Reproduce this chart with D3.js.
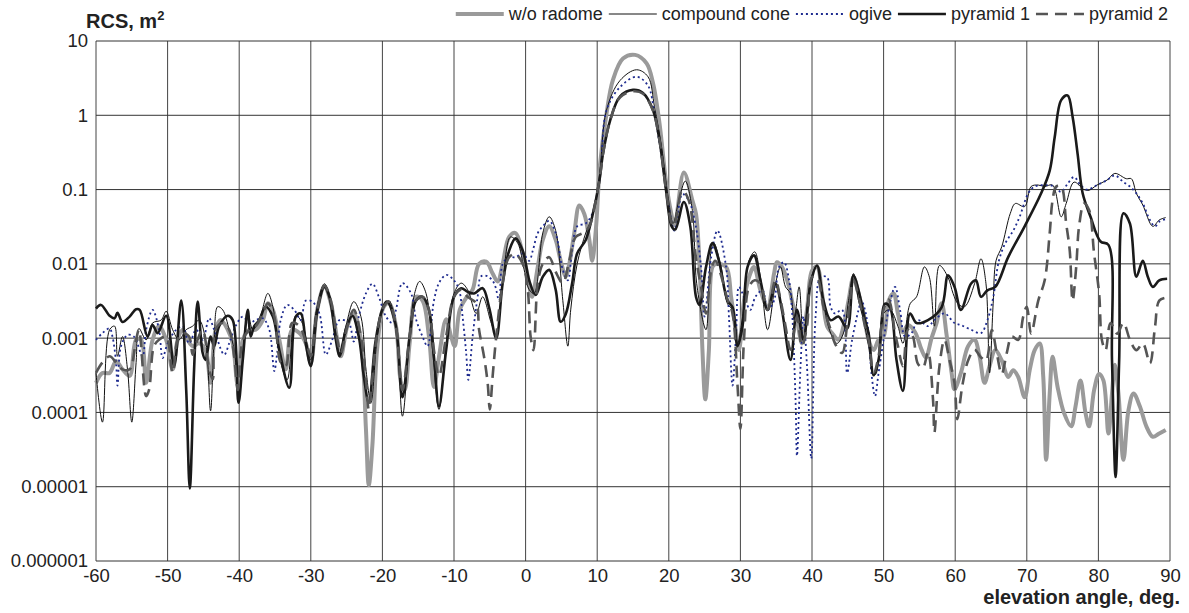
<!DOCTYPE html>
<html>
<head>
<meta charset="utf-8">
<script src="https://cdn.jsdelivr.net/npm/d3@7"></script>
<style>
  body { margin: 0; background: #fff; }
  svg { display: block; font-family: "Liberation Sans", Arial, sans-serif; }
</style>
</head>
<body>
<script>
// tick values and labels
var xTicks = [-60, -50, -40, -30, -20, -10, 0, 10, 20, 30, 40, 50, 60, 70, 80, 90];
var yTicks = [10, 1, 0.1, 0.01, 0.001, 0.0001, 0.00001, 0.000001];
var yTickLabels = ["10", "1", "0.1", "0.01", "0.001", "0.0001", "0.00001", "0.000001"];
var seriesNames = ["w/o radome", "compound cone", "ogive", "pyramid 1", "pyramid 2"];

// [elevation angle (deg), RCS (m^2)]
var woRadome = [[-60,2.5e-4],[-59.1,3.4e-4],[-58.1,3.4e-4],[-57.2,4.9e-4],[-56.3,3.8e-4],[-55.3,3.1e-4],[-54.4,9.5e-4],[-53.7,9.5e-4],[-53,2.5e-4],[-52.1,9.5e-4],[-51.2,1.45e-3],[-50.2,9.5e-4],[-49.3,3.8e-4],[-48.6,9.5e-4],[-47.9,1.3e-3],[-47.2,9.5e-4],[-46.5,7.8e-4],[-45.6,8.5e-4],[-44.7,6.9e-4],[-44,2.5e-4],[-43.3,1.3e-3],[-42.6,1.75e-3],[-41.6,1.3e-3],[-40.9,8.5e-4],[-40.2,2.3e-4],[-39.5,9.5e-4],[-38.6,1.3e-3],[-37.7,1.3e-3],[-36.7,1.75e-3],[-36,2.95e-3],[-35.3,2.4e-3],[-34.4,9.5e-4],[-33.5,3.8e-4],[-32.6,1.3e-3],[-31.6,1.17e-3],[-30.7,8.5e-4],[-30,4.7e-4],[-29.1,2.4e-3],[-28.1,4.9e-3],[-27.2,2.95e-3],[-26.3,9.5e-4],[-25.8,5.7e-4],[-24.9,1.45e-3],[-24,2.15e-3],[-23,9.5e-4],[-22.3,6e-5],[-21.9,1.05e-5],[-21.4,3.6e-5],[-20.7,7.8e-4],[-19.8,2.65e-3],[-19.1,2.95e-3],[-18.1,1.45e-3],[-17.4,2.5e-4],[-16.9,2e-4],[-16.2,8.5e-4],[-15.3,3.6e-3],[-14.4,3.2e-3],[-13.5,1.05e-3],[-12.8,2.2e-4],[-12.1,5.6e-4],[-11.1,1.8e-3],[-10.4,1.05e-3],[-9.9,7.8e-4],[-9.2,2.4e-3],[-8.2,3.6e-3],[-7.4,4.5e-3],[-6.5,0.01],[-5.5,0.0107],[-4.6,7.4e-3],[-3.9,5.8e-3],[-3.2,0.01],[-2.3,0.023],[-1.4,0.026],[-0.4,0.0138],[0.3,6.8e-3],[0.9,3.6e-3],[1.7,9.1e-3],[2.4,0.021],[3.3,0.032],[4.2,0.021],[4.9,0.011],[5.6,6.8e-3],[6.1,0.01],[6.8,0.026],[7.5,0.061],[8.2,0.047],[8.9,0.021],[9.3,0.011],[9.8,0.028],[10.4,0.22],[11.3,1.05],[12.2,3.0],[13.6,5.8],[15.3,6.5],[16.9,5.0],[17.8,2.7],[18.7,0.78],[19.6,0.13],[20.3,0.05],[20.8,0.033],[22.1,0.17],[23.3,0.071],[23.8,0.047],[24.3,9.1e-3],[24.7,6.9e-4],[25.1,1.5e-4],[25.6,6.9e-4],[26.1,9.1e-3],[26.6,0.01],[28,9.1e-3],[28.7,3.6e-3],[29.4,1.17e-3],[29.8,6.9e-4],[30.5,3.2e-3],[31.2,6.6e-3],[31.9,9.1e-3],[32.8,4.4e-3],[33.8,2.65e-3],[34.7,7.4e-3],[35.1,0.0105],[35.8,9.1e-3],[36.8,4.9e-3],[37.2,3.2e-3],[37.9,1.75e-3],[38.6,8.5e-4],[39.3,2.4e-3],[40,8.1e-3],[40.7,9.1e-3],[41.4,4e-3],[42.1,1.45e-3],[42.8,1.17e-3],[43.7,9.5e-4],[44.4,1.45e-3],[45.1,3.2e-3],[45.8,6.6e-3],[46.5,4e-3],[47.2,2.15e-3],[47.9,9.5e-4],[48.6,6.9e-4],[49.3,9.5e-4],[50,1.05e-3],[50.7,3.2e-3],[51.4,4e-3],[52,2.15e-3],[52.7,1.2e-3],[53.4,1.5e-3],[54.4,1.2e-3],[55.3,7e-4],[55.9,5.5e-4],[56.7,1e-3],[57.4,1.6e-3],[58.1,2.95e-3],[58.8,1.1e-3],[59.5,3.4e-4],[59.9,2.05e-4],[60.8,3.4e-4],[61.8,7.8e-4],[62.7,9.5e-4],[63.4,5.7e-4],[64.1,2.5e-4],[64.8,4.2e-4],[65.6,6.9e-4],[66.5,5e-4],[67.4,3e-4],[68.1,3.7e-4],[68.8,3e-4],[69.7,1.6e-4],[70.4,3.7e-4],[71.1,6.9e-4],[71.8,8.5e-4],[72.3,3e-4],[72.7,2.3e-5],[73.2,1.8e-4],[73.6,5.6e-4],[74.3,2.2e-4],[75.2,9.8e-5],[76.2,6.5e-5],[76.8,1.2e-4],[77.5,2.7e-4],[78.2,9.8e-5],[78.7,6.5e-5],[79.4,2e-4],[80.1,3.3e-4],[80.7,2.7e-4],[81.4,5.2e-5],[81.9,1.8e-4],[82.3,4.4e-4],[82.8,1.8e-4],[83.5,2.3e-5],[84.2,1.07e-4],[84.9,1.8e-4],[85.8,1.2e-4],[86.7,6.5e-5],[87.6,4.7e-5],[88.5,5.2e-5],[89.4,5.8e-5]];

var compoundCone = [[-60,3.4e-4],[-59.1,7.4e-5],[-58.1,1.3e-3],[-57.4,1.45e-3],[-57,5.7e-4],[-56.3,1.05e-3],[-55.6,3.8e-4],[-55,7.4e-5],[-54.4,4.7e-4],[-54,1.35e-3],[-53,9.5e-4],[-52.1,1.6e-3],[-50.9,1.75e-3],[-50.2,2.3e-3],[-49.3,1.3e-3],[-48.4,9.5e-4],[-47.4,1.3e-3],[-46.5,1.45e-3],[-45.6,1.75e-3],[-44.7,9.5e-4],[-44,1.05e-4],[-43.5,9.5e-4],[-43,2.65e-3],[-42.3,2.4e-3],[-41.4,1.3e-3],[-40.7,6.9e-4],[-40,1.66e-4],[-39.3,1.05e-3],[-38.8,2.15e-3],[-38.1,1.3e-3],[-37.2,1.75e-3],[-36,4e-3],[-35.3,2.65e-3],[-34.2,4.7e-4],[-33.3,2.75e-4],[-32.1,2e-3],[-31.2,1.6e-3],[-30,5.1e-4],[-29.3,2.15e-3],[-28.1,5.4e-3],[-27,2.65e-3],[-26,6.3e-4],[-25.1,1.45e-3],[-24,3.1e-3],[-23,1.95e-3],[-22.3,3.8e-4],[-21.6,1.35e-4],[-20.7,1.05e-3],[-19.8,2.65e-3],[-19.1,3.2e-3],[-18.1,1.4e-3],[-17.2,8.9e-5],[-16.2,1.05e-3],[-15.5,4e-3],[-14.8,5.8e-3],[-13.9,4e-3],[-13,6.9e-4],[-12.1,1.1e-4],[-11.1,8.5e-4],[-10,4e-3],[-9,5.5e-3],[-8.1,4.5e-3],[-6.9,2.15e-3],[-6,3.6e-3],[-4.8,1.6e-3],[-4.1,1.1e-3],[-3.2,5.5e-3],[-2.1,0.023],[-1.1,0.019],[-0.2,8.3e-3],[0.5,4.5e-3],[1.2,4e-3],[2.4,0.026],[3.3,0.043],[4.2,0.028],[5.2,3.2e-3],[5.9,7.8e-4],[6.3,2.4e-3],[7.2,0.01],[8.4,0.026],[9.3,0.043],[10.3,0.15],[11.3,1.17],[13.2,2.95],[15.5,4.1],[17.1,3.3],[18,1.3],[19,0.37],[19.9,0.08],[20.6,0.035],[21.4,0.071],[22.3,0.13],[23.3,0.052],[23.9,5.4e-3],[25.2,1.3e-3],[25.9,0.015],[26.3,0.019],[27.3,9.1e-3],[28.2,2.9e-3],[28.9,2.4e-3],[29.6,8.5e-4],[30.3,1.95e-3],[31.2,0.011],[32,0.0145],[32.8,6.6e-3],[33.8,1.3e-3],[34.9,5.4e-3],[35.6,9.1e-3],[36.3,4.9e-3],[37,4e-3],[37.5,1.75e-3],[38.2,4.9e-3],[38.8,9.5e-4],[39.8,6e-3],[40.7,9.5e-3],[41.6,2.9e-3],[42.6,1.17e-3],[43.5,8.5e-4],[44.4,1.17e-3],[45.1,3.2e-3],[45.8,7.4e-3],[46.5,3.2e-3],[47.2,1.75e-3],[47.9,7.8e-4],[48.6,3.1e-4],[49,3.4e-4],[50,2.15e-3],[50.9,2.4e-3],[52,1.45e-3],[52.7,8.5e-4],[53.7,2.9e-3],[54.6,3.6e-3],[55.7,9.1e-3],[56.4,6.6e-3],[57.1,1.45e-3],[57.8,9.5e-3],[59,6.6e-3],[59.7,4e-3],[60.4,2.9e-3],[61.3,2.65e-3],[62.7,5.4e-3],[63.6,0.0117],[64.3,5.4e-3],[64.8,3.4e-4],[65.3,2.9e-3],[65.7,0.011],[66.5,0.017],[67.7,0.048],[68.4,0.065],[69.7,0.059],[70.6,0.11],[71.6,0.115],[72.5,0.11],[73.6,0.115],[74.8,0.043],[75.5,0.065],[76.6,0.126],[78,0.1],[78.7,0.098],[79.8,0.115],[81.2,0.134],[82.3,0.165],[83.9,0.14],[84.6,0.14],[85.3,0.089],[86.2,0.062],[87.6,0.032],[88.5,0.039],[89.4,0.042]];

var ogive = [[-60,9.5e-4],[-59.1,1.17e-3],[-58.1,1.35e-3],[-57.7,1.05e-3],[-57.2,4.7e-4],[-57,2.3e-4],[-56.5,7.8e-4],[-55.6,1.1e-3],[-54.7,1.05e-3],[-53.5,5.7e-4],[-53,1.3e-3],[-52.1,2.4e-3],[-51.2,1.3e-3],[-50.7,5.4e-4],[-50,8.5e-4],[-48.8,1.3e-3],[-47.9,1.45e-3],[-47,8.5e-4],[-46,1.3e-3],[-45.1,9.5e-4],[-44.2,1.85e-3],[-43.5,1.3e-3],[-42.1,6e-4],[-41.4,8.5e-4],[-40.5,1.45e-3],[-39.5,1.95e-3],[-38.6,1.6e-3],[-37.7,1.75e-3],[-36.7,1.85e-3],[-35.8,1.3e-3],[-35.1,3.6e-4],[-34.7,6.3e-4],[-34.2,1.75e-3],[-33.3,2.8e-3],[-32.3,2.4e-3],[-31.4,1.75e-3],[-30.7,3.2e-3],[-29.8,3.1e-3],[-28.8,2.15e-3],[-27.9,6e-4],[-27,9.5e-4],[-26,1.75e-3],[-24.7,1.6e-3],[-24,9e-4],[-23.3,1.95e-3],[-22.3,4e-3],[-21.4,5.4e-3],[-20.5,3.6e-3],[-19.5,1.95e-3],[-18.6,1.6e-3],[-18.1,2.4e-3],[-17.2,5.5e-3],[-16,4e-3],[-15.3,1.8e-3],[-14.4,1.05e-3],[-13.7,7.8e-4],[-12.8,3.2e-3],[-12.1,5.5e-3],[-11.1,7.1e-3],[-10.2,6.3e-3],[-9.3,4.5e-3],[-8.8,1.95e-3],[-8.3,6.3e-4],[-8,2.75e-4],[-7.4,1.05e-3],[-6.7,3.6e-3],[-6.2,6.8e-3],[-5.3,6.8e-3],[-4.4,5.5e-3],[-3.7,3.2e-3],[-3.2,0.01],[-2.3,0.0123],[-1.4,0.0123],[-0.4,0.0138],[0.5,0.011],[1,0.015],[1.7,0.026],[2.4,0.032],[3.3,0.038],[4.2,0.026],[5.2,8.3e-3],[5.9,6e-3],[6.5,0.015],[7.2,0.032],[8.4,0.035],[9.3,0.047],[9.8,0.071],[10.5,0.18],[11.3,1.17],[13.2,2.4],[15.5,3.3],[17.1,2.5],[18,1.05],[19,0.275],[20,0.058],[20.8,0.028],[21.9,0.087],[22.8,0.071],[23.7,0.035],[24.5,9.1e-3],[25,1.95e-3],[25.9,0.012],[26.8,0.028],[28,9.1e-3],[28.4,1.95e-3],[28.9,2.3e-4],[29.4,1.17e-3],[29.8,4.9e-3],[30.3,4e-3],[30.7,3.2e-3],[31.4,2.4e-3],[32.1,3.6e-3],[33.1,4.4e-3],[33.8,2.4e-3],[34.7,3.2e-3],[35.4,9.1e-3],[36.1,0.0105],[36.8,6e-3],[37.2,2.4e-3],[37.7,1.5e-4],[37.9,2.6e-5],[38.4,4.2e-4],[38.8,1.95e-3],[39.3,4.2e-4],[39.9,2.4e-5],[40.5,1.95e-3],[41.2,6.6e-3],[42.1,6.6e-3],[42.6,2.65e-3],[43.2,2.15e-3],[44.2,2.4e-3],[44.9,3.4e-4],[45.6,9.5e-4],[46.5,2.4e-3],[46.9,3.2e-3],[47.4,2.4e-3],[47.9,1.17e-3],[48.3,3.4e-4],[48.8,1.66e-4],[49.3,3.4e-4],[50,9.5e-4],[50.7,2.4e-3],[51.6,4.9e-3],[52.3,2.4e-3],[53,1.05e-3],[53.9,1.17e-3],[54.8,1.75e-3],[56.2,1.45e-3],[57.1,1.75e-3],[58.5,2.15e-3],[59.9,1.6e-3],[60.8,1.5e-3],[62.2,1.3e-3],[63.6,1.17e-3],[64.5,1.75e-3],[65.3,3.5e-3],[66.1,0.011],[67,0.019],[68.1,0.028],[69,0.043],[70.2,0.089],[71.1,0.11],[72.5,0.115],[73.9,0.11],[74.8,0.093],[75.7,0.12],[76.6,0.148],[77.5,0.115],[78.4,0.1],[79.8,0.115],[81.2,0.134],[82.3,0.155],[83.5,0.126],[84.4,0.11],[85.3,0.089],[86.2,0.065],[87.2,0.039],[87.9,0.032],[88.5,0.037],[89.4,0.04]];

var pyramid1 = [[-60,2.5e-3],[-59.3,2.8e-3],[-58.1,2e-3],[-57.4,1.85e-3],[-57,2.2e-3],[-56.3,1.65e-3],[-55.3,1.95e-3],[-54.4,2.45e-3],[-53.9,2.4e-3],[-52.8,1.05e-3],[-52.1,1.5e-3],[-51.4,1.17e-3],[-50.2,2e-3],[-49.1,4.2e-4],[-48.1,3.2e-3],[-47.4,2e-4],[-46.9,9.5e-6],[-46.3,3.8e-4],[-45.8,3.1e-3],[-45.1,6.3e-4],[-44.7,5.1e-4],[-44,1.05e-3],[-43.5,7.8e-4],[-42.8,1.45e-3],[-41.6,2e-3],[-40.9,1.75e-3],[-40.1,1.35e-4],[-39.5,5.1e-4],[-38.8,2.4e-3],[-38.4,1.05e-3],[-37.9,1.45e-3],[-37.2,1.75e-3],[-36.3,2.65e-3],[-35.3,1.95e-3],[-34.4,6.9e-4],[-33,2.15e-4],[-32.1,1.95e-3],[-31.4,2.15e-3],[-30.7,8.5e-4],[-30,4.2e-4],[-29.1,2.3e-3],[-28.1,4.9e-3],[-27.4,3.6e-3],[-26.5,9.5e-4],[-26,5.7e-4],[-25.1,1.3e-3],[-24.2,2e-3],[-23.3,1.05e-3],[-22.6,3.1e-4],[-21.9,1.35e-4],[-21,8.5e-4],[-20.1,2.3e-3],[-19.4,3.1e-3],[-18.2,1.6e-3],[-17.2,1.6e-4],[-16.2,1.05e-3],[-15.3,3.2e-3],[-14.4,3.6e-3],[-13.5,2.4e-3],[-12.8,5.6e-4],[-12.1,1.2e-4],[-11.1,6.9e-4],[-10,3.6e-3],[-9,4.7e-3],[-8.1,4.2e-3],[-7.2,4e-3],[-6,4.7e-3],[-5.1,2.6e-3],[-4.1,1e-3],[-3.2,5.5e-3],[-2.3,0.015],[-1.4,0.022],[-0.4,0.015],[0.5,6e-3],[1.4,3.8e-3],[2.4,6.7e-3],[3.3,8.3e-3],[4.2,4.5e-3],[4.9,1.66e-3],[5.6,2.1e-3],[6.5,5.5e-3],[7.2,0.0138],[8.4,0.021],[9.3,0.043],[10.3,0.13],[10.8,0.3],[11.8,0.85],[13.2,1.8],[15,2.2],[16.4,2.0],[17.8,1.17],[18.7,0.46],[19.6,0.1],[20.4,0.032],[20.9,0.029],[22.1,0.068],[23,0.032],[23.8,3.6e-3],[24.3,2.8e-3],[25.2,9.1e-3],[26.1,0.019],[27,0.011],[28.2,3.2e-3],[28.9,2.6e-3],[29.6,7.8e-4],[30.3,1.45e-3],[31,9.1e-3],[31.9,0.013],[32.8,6e-3],[33.8,2.4e-3],[34.9,5.4e-3],[35.8,2.4e-3],[37,5.1e-4],[37.9,2.4e-3],[38.8,9.5e-4],[39.8,5.4e-3],[40.7,9.5e-3],[41.6,3.2e-3],[42.6,1.75e-3],[43.7,1.95e-3],[44.9,1.35e-3],[45.8,7e-3],[46.5,4.4e-3],[47.4,1.75e-3],[47.9,1.17e-3],[48.6,3.2e-4],[49.3,5.1e-4],[50.2,2.9e-3],[50.9,2.6e-3],[51.8,5.1e-4],[52.7,1.95e-4],[53.7,2.15e-3],[54.6,1.6e-3],[56.2,1.75e-3],[58.1,2.6e-3],[59,7e-3],[59.9,4.9e-3],[60.8,2.4e-3],[62.2,5.4e-3],[62.9,6e-3],[63.6,3.6e-3],[64.5,4.4e-3],[65.6,4.9e-3],[67.4,0.0123],[69.7,0.032],[72,0.089],[73.2,0.18],[73.9,0.51],[74.8,1.6],[75.7,1.85],[76.4,0.95],[77.1,0.3],[77.8,0.089],[78.9,0.043],[80.3,0.02],[81.4,0.018],[81.9,5e-4],[82.4,1.35e-5],[82.9,5e-4],[83.5,0.048],[84.4,0.035],[85.3,6.7e-3],[86.2,0.011],[86.9,6.7e-3],[87.6,4.9e-3],[88.5,6e-3],[89.6,6.3e-3]];

var pyramid2 = [[-60,3.4e-4],[-59.1,4.7e-4],[-58.1,5.7e-4],[-57.2,4.7e-4],[-56.3,3.8e-4],[-55.3,3.8e-4],[-54.4,9.5e-4],[-54,1.3e-3],[-53,1.66e-4],[-52.6,2e-4],[-51.9,7.8e-4],[-51.2,9.5e-4],[-50.2,1.05e-3],[-49.3,3.4e-4],[-48.6,9.5e-4],[-47.9,1.17e-3],[-47,1.05e-3],[-46.5,6e-4],[-46,8.5e-4],[-45.1,1.3e-3],[-44.2,3.8e-4],[-43.7,2.8e-4],[-43.3,1.3e-3],[-42.3,1.6e-3],[-41.4,1.3e-3],[-40.7,5.7e-4],[-40.2,2e-4],[-39.5,9.5e-4],[-38.6,1.3e-3],[-37.7,1.45e-3],[-36.7,2.15e-3],[-36,2.95e-3],[-35.1,1.95e-3],[-34.2,4.7e-4],[-33.5,4.2e-4],[-32.6,1.6e-3],[-31.6,1.45e-3],[-30.5,7.8e-4],[-30,5.7e-4],[-29.1,2.4e-3],[-28.1,5.1e-3],[-27.2,3.2e-3],[-26.3,9.5e-4],[-25.8,6.3e-4],[-24.9,1.45e-3],[-24,2.4e-3],[-23,1.05e-3],[-22.3,2.8e-4],[-21.9,1.1e-4],[-21.2,4.7e-4],[-20.5,1.6e-3],[-19.8,2.65e-3],[-19.1,3.1e-3],[-18.1,1.4e-3],[-17.2,2e-4],[-16.2,1.05e-3],[-15.3,3.2e-3],[-14.4,3.6e-3],[-13.5,2.4e-3],[-12.8,6.9e-4],[-12.1,3.1e-4],[-11.1,1.05e-3],[-10,3.6e-3],[-9,4.5e-3],[-8.1,3.6e-3],[-6.9,2.95e-3],[-6.5,1.3e-3],[-5.8,5.6e-4],[-5.3,2.5e-4],[-5,1.1e-4],[-4.6,3.1e-4],[-4.1,1.05e-3],[-3.2,5.5e-3],[-2.3,0.0123],[-1.4,0.0135],[-0.4,0.01],[0.3,4.5e-3],[0.7,1.05e-3],[1.1,6.9e-4],[1.7,5.5e-3],[2.4,0.01],[3.3,0.0123],[4.2,7.8e-3],[5.2,5.5e-3],[6.1,0.011],[7,0.023],[8,0.026],[8.9,0.032],[9.8,0.071],[10.5,0.18],[10.8,0.3],[11.8,0.85],[13.2,1.75],[15,2.1],[16.4,1.95],[17.8,1.15],[18.7,0.46],[19.6,0.1],[20.4,0.035],[20.7,0.032],[21.9,0.098],[22.8,0.071],[23.8,0.012],[24.5,4.9e-3],[25.2,2.15e-3],[26,9.1e-3],[26.5,0.011],[27.5,6e-3],[28.2,3.3e-3],[28.9,2.15e-3],[29.6,2.3e-4],[30,6e-5],[30.5,9.5e-4],[31.2,4.9e-3],[32,6e-3],[32.8,5.4e-3],[33.8,2.4e-3],[34.9,6e-3],[35.6,3.3e-3],[36.3,1.45e-3],[37,7e-4],[37.9,1.95e-3],[38.6,7.8e-4],[39.3,1.45e-3],[40,6.6e-3],[40.7,6.6e-3],[41.6,2.65e-3],[42.6,1.3e-3],[43.2,8.5e-4],[44.2,6.3e-4],[44.9,1.45e-3],[45.8,6e-3],[46.5,3.6e-3],[47.4,1.45e-3],[47.9,9.5e-4],[48.6,3.4e-4],[49.3,5.7e-4],[50,2.4e-3],[50.7,3.3e-3],[51.6,1.17e-3],[52,7.8e-4],[52.7,4.2e-4],[53.4,1.3e-3],[54.1,1.05e-3],[54.8,4.5e-4],[55.5,4e-4],[56.2,6.5e-4],[56.9,1.5e-4],[57.1,5.4e-5],[57.8,4.2e-4],[58.5,9.5e-4],[59.2,5.1e-4],[59.9,2.5e-4],[60.3,8.1e-5],[61,2.3e-4],[61.8,5e-4],[62.7,7e-4],[63.6,5.5e-4],[64.3,5e-4],[65.1,1.3e-3],[65.8,6.3e-4],[66.5,3.3e-4],[67.2,6.3e-4],[67.9,1.05e-3],[68.8,9.5e-4],[69.5,1.95e-3],[70,2.65e-3],[70.6,1.15e-3],[71.6,3.2e-3],[72.5,6e-3],[73.2,0.026],[73.6,0.072],[74.1,0.11],[74.8,0.11],[75.5,0.035],[76,0.015],[76.4,3.2e-3],[76.9,9.1e-3],[77.3,0.032],[78,0.065],[78.7,0.053],[79.4,0.0138],[80.1,4e-3],[80.5,9.3e-4],[81,6.9e-4],[81.7,1.6e-3],[82.6,1.15e-3],[83.5,1.6e-3],[84.4,9.5e-4],[85.3,6.9e-4],[86.2,8.5e-4],[87.2,4.6e-4],[87.9,1.4e-3],[88.5,3.2e-3],[89.4,3.5e-3]];

var allSeries = [woRadome, compoundCone, ogive, pyramid1, pyramid2];
var colors = ["#9a9a9a", "#111111", "#1e2b8f", "#1a1a1a", "#555555"];
var widths = [4, 1, 1.8, 2.6, 2.6];
var dashes = [null, null, "2,3", null, "12,7"];

var w = 1189;
var h = 613;
var plotLeft = 96, plotRight = 1170, plotTop = 41, plotBottom = 561;

var svg = d3.select("body")
    .append("svg")
    .attr("width", w)
    .attr("height", h);

var x = d3.scaleLinear().domain([-60, 90]).range([plotLeft, plotRight]);
var y = d3.scaleLog().domain([0.000001, 10]).range([plotBottom, plotTop]);

// grid
svg.append("g")
    .selectAll("line")
    .data(xTicks)
    .enter()
    .append("line")
    .attr("x1", function (d) { return x(d); })
    .attr("x2", function (d) { return x(d); })
    .attr("y1", plotTop)
    .attr("y2", plotBottom)
    .attr("stroke", "#444")
    .attr("stroke-width", 1);

svg.append("g")
    .selectAll("line")
    .data(yTicks)
    .enter()
    .append("line")
    .attr("x1", plotLeft)
    .attr("x2", plotRight)
    .attr("y1", function (d) { return y(d); })
    .attr("y2", function (d) { return y(d); })
    .attr("stroke", "#333")
    .attr("stroke-width", 1);

// axes (labels only)
var xAxis = svg.append("g")
    .attr("transform", "translate(0," + plotBottom + ")")
    .call(d3.axisBottom(x).tickValues(xTicks).tickSize(0).tickPadding(8)
        .tickFormat(function (d) { return String(d); }));

var yAxis = svg.append("g")
    .attr("transform", "translate(" + plotLeft + ",0)")
    .call(d3.axisLeft(y).tickValues(yTicks).tickSize(0).tickPadding(8)
        .tickFormat(function (d, i) { return yTickLabels[i]; }));

[xAxis, yAxis].forEach(function (g) {
    g.select(".domain").remove();
    g.selectAll("text")
        .attr("fill", "#222")
        .style("font-size", "18.5px")
        .style("font-family", "'Liberation Sans', Arial, sans-serif");
});

// series
var line = d3.line()
    .x(function (d) { return x(d[0]); })
    .y(function (d) { return y(d[1]); })
    .curve(d3.curveCatmullRom.alpha(0.5));

svg.append("g")
    .selectAll("path")
    .data(allSeries)
    .enter()
    .append("path")
    .attr("d", line)
    .attr("fill", "none")
    .attr("stroke", function (d, i) { return colors[i]; })
    .attr("stroke-width", function (d, i) { return widths[i]; })
    .attr("stroke-dasharray", function (d, i) { return dashes[i]; })
    .attr("stroke-linejoin", "round");

// axis titles
var yTitle = svg.append("text")
    .attr("x", 86)
    .attr("y", 28)
    .attr("font-weight", "bold")
    .attr("font-size", "20px")
    .attr("fill", "#222")
    .text("RCS, m");
yTitle.append("tspan")
    .attr("dy", -8)
    .attr("font-size", "13px")
    .text("2");

svg.append("text")
    .attr("x", 1180)
    .attr("y", 604)
    .attr("text-anchor", "end")
    .attr("font-weight", "bold")
    .attr("font-size", "20px")
    .attr("fill", "#222")
    .text("elevation angle, deg.");

// legend, right-aligned at top
var legend = svg.append("g");
var sampleLen = 48, legendY = 14;
var cursor = 0;
seriesNames.forEach(function (name, i) {
    legend.append("line")
        .attr("x1", cursor)
        .attr("x2", cursor + sampleLen)
        .attr("y1", legendY)
        .attr("y2", legendY)
        .attr("stroke", colors[i])
        .attr("stroke-width", widths[i])
        .attr("stroke-dasharray", dashes[i]);
    cursor += sampleLen + 5;
    var t = legend.append("text")
        .attr("x", cursor)
        .attr("y", legendY + 6)
        .attr("font-size", "18px")
        .attr("fill", "#222")
        .text(name);
    cursor += t.node().getComputedTextLength() + 6;
});
legend.attr("transform", "translate(" + (1168 - (cursor - 6)) + ",0)");
</script>
</body>
</html>
